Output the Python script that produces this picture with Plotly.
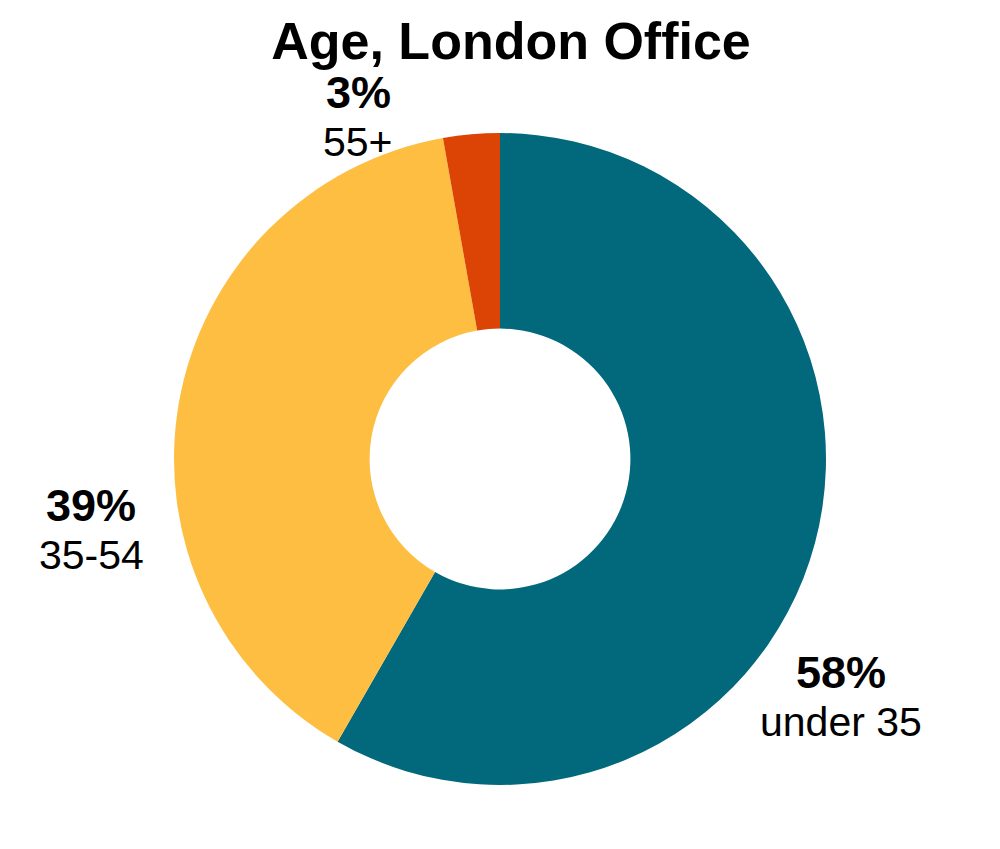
import plotly.graph_objects as go

# --- data ---
age_groups = ["under 35", "35-54", "55+"]
shares = [58.3, 38.9, 2.8]  # labels show them rounded
slice_colors = ["#02687C", "#FDBE41", "#DC4405"]

# label centres in pixels on the page (x, y of the percentage line)
label_pos = [(841, 672), (91, 505), (358, 92)]

W, H = 1000, 849
OFF = 8  # page body margin of the html page
M_T = 133 - OFF
plot_h = 652
plot_w = W - 2 * OFF
M_B = H - M_T - plot_h
FONT = "Liberation Sans, Arial, sans-serif"

fig = go.Figure(go.Pie(
    labels=age_groups,
    values=shares,
    hole=0.4,
    sort=False,
    direction="clockwise",
    rotation=0,
    marker=dict(colors=slice_colors, line=dict(width=0)),
    textinfo="none",
    hoverinfo="label+percent",
    showlegend=False,
))

annotations = []
for name, val, (px, py) in zip(age_groups, shares, label_pos):
    x = (px - OFF) / plot_w
    y_top = (H - M_B - (py - OFF)) / plot_h
    y_low = (H - M_B - (py - OFF + 50)) / plot_h
    annotations.append(dict(
        x=x, y=y_top, xref="paper", yref="paper",
        text=f"<b>{round(val)}%</b>", showarrow=False,
        font=dict(family=FONT, size=45, color="black"),
        xanchor="center", yanchor="middle",
    ))
    annotations.append(dict(
        x=x, y=y_low, xref="paper", yref="paper",
        text=name, showarrow=False,
        font=dict(family=FONT, size=41, color="black"),
        xanchor="center", yanchor="middle",
    ))

fig.update_layout(
    width=W, height=H,
    margin=dict(l=0, r=2 * OFF, t=M_T, b=M_B),
    paper_bgcolor="white", plot_bgcolor="white",
    title=dict(
        text="<b>Age, London Office</b>",
        x=(511 - OFF) / W, xanchor="center", y=1 - (41 - OFF) / H, yanchor="middle",
        font=dict(family=FONT, size=52, color="black"),
    ),
    annotations=annotations,
)

fig.write_html("out.html")
